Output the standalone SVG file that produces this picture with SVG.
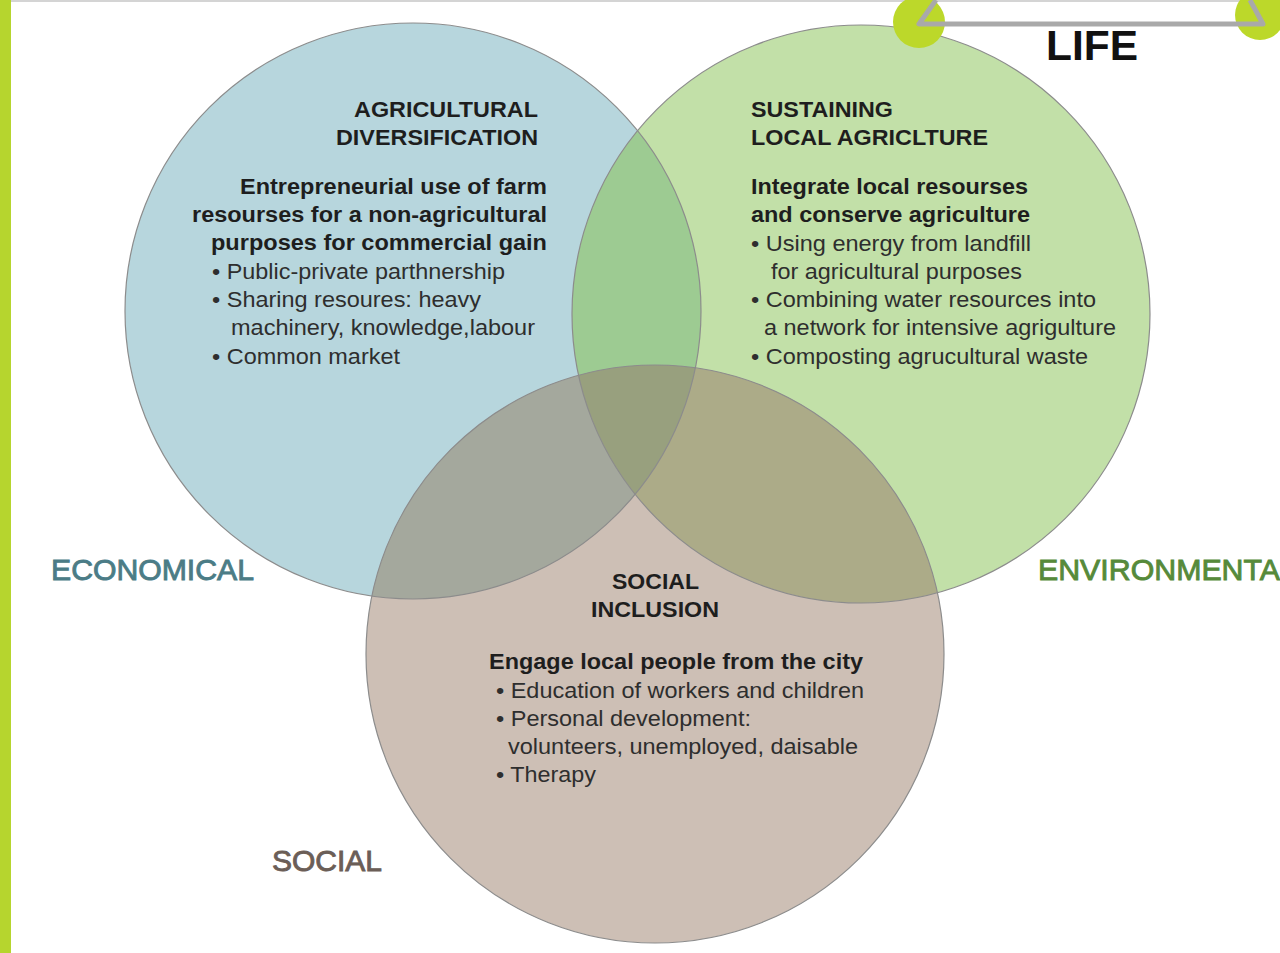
<svg xmlns="http://www.w3.org/2000/svg" width="1280" height="953" viewBox="0 0 1280 953">
<style>
.h{font-family:"Liberation Sans",Arial,sans-serif;font-weight:bold;font-size:22.5px;fill:#1e1e1e}
.b{font-family:"Liberation Sans",Arial,sans-serif;font-weight:bold;font-size:22.5px;fill:#1e1e1e}
.r{font-family:"Liberation Sans",Arial,sans-serif;font-size:22.5px;fill:#2e2e2e}
.lab{font-family:"Liberation Sans",Arial,sans-serif;font-size:30px;stroke-width:0.9}
.edge{fill:none;stroke:#8c8c8c;stroke-width:1.2}
</style>
<defs>
<clipPath id="clipA"><circle cx="413" cy="311" r="288"/></clipPath>
<clipPath id="clipB"><circle cx="861" cy="314" r="289"/></clipPath>
</defs>
<rect x="0" y="0" width="1280" height="953" fill="#ffffff"/>
<rect x="0" y="0" width="11" height="953" fill="#b6d52e"/>
<line x1="11" y1="1" x2="1280" y2="1" stroke="#d4d4d4" stroke-width="2"/>

<g id="venn-fills">
<g id="circle-economical"><circle cx="413" cy="311" r="288" fill="#b7d6dd"/></g>
<g id="circle-environmental"><circle cx="861" cy="314" r="289" fill="#c2e0a8"/></g>
<g id="circle-social"><circle cx="655" cy="654" r="289" fill="#cdbfb5"/></g>
<circle cx="861" cy="314" r="289" fill="#9dcb92" clip-path="url(#clipA)"/>
<circle cx="655" cy="654" r="289" fill="#a4a89d" clip-path="url(#clipA)"/>
<circle cx="655" cy="654" r="289" fill="#acab88" clip-path="url(#clipB)"/>
<g clip-path="url(#clipB)"><circle cx="655" cy="654" r="289" fill="#98a07e" clip-path="url(#clipA)"/></g>
<circle class="edge" cx="413" cy="311" r="288"/>
<circle class="edge" cx="861" cy="314" r="289"/>
<circle class="edge" cx="655" cy="654" r="289"/>
</g>

<g id="life-header">
<circle cx="919" cy="22" r="26" fill="#bcd82a"/>
<circle cx="1260" cy="15" r="25" fill="#bcd82a"/>
<polyline points="936,0 919,24 1263,24 1250,0" fill="none" stroke="#a9a9a9" stroke-width="5" stroke-linejoin="round"/>
<text x="1046" y="60" font-family="Liberation Sans,Arial,sans-serif" font-weight="bold" font-size="42" fill="#111" textLength="92" lengthAdjust="spacingAndGlyphs">LIFE</text>
</g>

<g id="node-economical">
<text class="h" x="354" y="117" textLength="184" lengthAdjust="spacingAndGlyphs">AGRICULTURAL</text>
<text class="h" x="336" y="145" textLength="202" lengthAdjust="spacingAndGlyphs">DIVERSIFICATION</text>
<text class="b" x="240" y="194" textLength="307" lengthAdjust="spacingAndGlyphs">Entrepreneurial use of farm</text>
<text class="b" x="192" y="222" textLength="355" lengthAdjust="spacingAndGlyphs">resourses for a non-agricultural</text>
<text class="b" x="211" y="250" textLength="336" lengthAdjust="spacingAndGlyphs">purposes for commercial gain</text>
<text class="r" x="212" y="279" textLength="293" lengthAdjust="spacingAndGlyphs">• Public-private parthnership</text>
<text class="r" x="212" y="307" textLength="269" lengthAdjust="spacingAndGlyphs">• Sharing resoures: heavy</text>
<text class="r" x="231" y="335" textLength="304" lengthAdjust="spacingAndGlyphs">machinery, knowledge,labour</text>
<text class="r" x="212" y="364" textLength="188" lengthAdjust="spacingAndGlyphs">• Common market</text>
<text class="lab" x="51" y="580" fill="#4b7c86" stroke="#4b7c86" textLength="203" lengthAdjust="spacingAndGlyphs">ECONOMICAL</text>
</g>

<g id="node-environmental">
<text class="h" x="751" y="117" textLength="142" lengthAdjust="spacingAndGlyphs">SUSTAINING</text>
<text class="h" x="751" y="145" textLength="237" lengthAdjust="spacingAndGlyphs">LOCAL AGRICLTURE</text>
<text class="b" x="751" y="194" textLength="277" lengthAdjust="spacingAndGlyphs">Integrate local resourses</text>
<text class="b" x="751" y="222" textLength="279" lengthAdjust="spacingAndGlyphs">and conserve agriculture</text>
<text class="r" x="751" y="251" textLength="280" lengthAdjust="spacingAndGlyphs">• Using energy from landfill</text>
<text class="r" x="771" y="279" textLength="251" lengthAdjust="spacingAndGlyphs">for agricultural purposes</text>
<text class="r" x="751" y="307" textLength="345" lengthAdjust="spacingAndGlyphs">• Combining water resources into</text>
<text class="r" x="764" y="335" textLength="352" lengthAdjust="spacingAndGlyphs">a network for intensive agrigulture</text>
<text class="r" x="751" y="364" textLength="337" lengthAdjust="spacingAndGlyphs">• Composting agrucultural waste</text>
<text class="lab" x="1038" y="580" fill="#568a3a" stroke="#568a3a" textLength="242" lengthAdjust="spacingAndGlyphs">ENVIRONMENTA</text>
</g>

<g id="node-social">
<text class="h" x="612" y="589" textLength="87" lengthAdjust="spacingAndGlyphs">SOCIAL</text>
<text class="h" x="591" y="617" textLength="128" lengthAdjust="spacingAndGlyphs">INCLUSION</text>
<text class="b" x="489" y="669" textLength="374" lengthAdjust="spacingAndGlyphs">Engage local people from the city</text>
<text class="r" x="496" y="698" textLength="368" lengthAdjust="spacingAndGlyphs">• Education of workers and children</text>
<text class="r" x="496" y="726" textLength="255" lengthAdjust="spacingAndGlyphs">• Personal development:</text>
<text class="r" x="508" y="754" textLength="350" lengthAdjust="spacingAndGlyphs">volunteers, unemployed, daisable</text>
<text class="r" x="496" y="782" textLength="100" lengthAdjust="spacingAndGlyphs">• Therapy</text>
<text class="lab" x="272" y="871" fill="#6b5e57" stroke="#6b5e57" textLength="110" lengthAdjust="spacingAndGlyphs">SOCIAL</text>
</g>

<g id="connectors"/>
</svg>
